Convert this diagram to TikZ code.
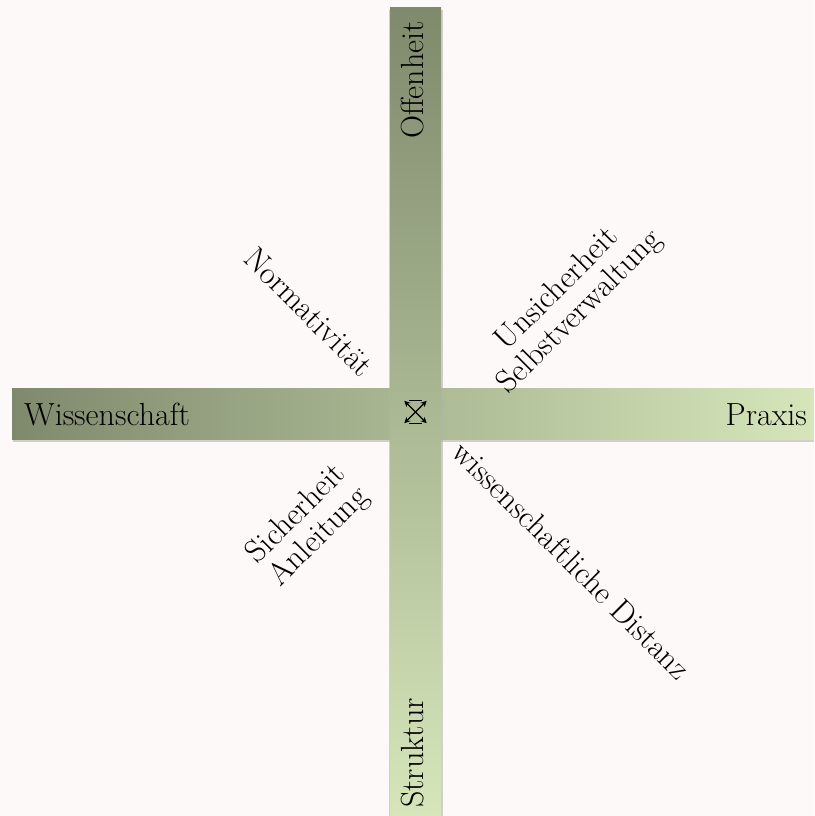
\documentclass[tikz,border=0pt]{standalone}
\usepackage{xcolor}
\usepackage{pgf,tikz}
\usetikzlibrary{arrows.meta,positioning,calc}

\definecolor{bgcol}{HTML}{FCF9F8}
\definecolor{darkol}{HTML}{7F8A6D}
\definecolor{midol}{HTML}{B0C497}
\definecolor{lightol}{HTML}{D6E6BA}
\definecolor{shadcol}{HTML}{B5B2B0}

\tikzset{
    lbl/.style={inner sep=0pt, text=black, font=\fontsize{32}{32}\selectfont},
    shad/.style={fill=shadcol, opacity=0.6}
}

\begin{document}
\begin{tikzpicture}[x=1pt,y=-1pt]
    \fill[bgcol] (0,0) rectangle (814,816);
    % bars
    \fill[shad] (13,391) rectangle (814,442);
    \shade[left color=darkol, middle color=midol, right color=lightol] (12,388) rectangle (814,439);
    \fill[shad] (389,10) rectangle (443,816);
    \shade[top color=darkol, middle color=midol, bottom color=lightol] (390,8) rectangle (441,816);
    % axis labels
    \node[lbl, anchor=base west] (wiss) at (24,425) {Wissenschaft};
    \node[lbl, anchor=base east] (praxis) at (807,425) {Praxis};
    \node[lbl, rotate=90] (offen) at (413,80) {Offenheit};
    \node[lbl, rotate=90] (struk) at (413,753) {Struktur};
    % quadrants
    \node[lbl, rotate=-45] (norm) at (309,312) {Normativität};
    \node[lbl, rotate=45, align=center] (unsich) at (569,301) {Unsicherheit\\Selbstverwaltung};
    \node[lbl, rotate=45, align=center] (sich) at (308,526) {Sicherheit\\Anleitung};
    \node[lbl, rotate=-45] (dist) at (572,560) {wissenschaftliche Distanz};
    % centre mark
    \node[minimum size=22pt, inner sep=0pt] (mid) at (415.5,412) {};
    \draw[line width=1.3pt, {Stealth[length=6pt,width=6pt]}-{Stealth[length=6pt,width=6pt]}] (mid.north west) -- (mid.south east);
    \draw[line width=1.3pt, {Stealth[length=6pt,width=6pt]}-{Stealth[length=6pt,width=6pt]}] (mid.north east) -- (mid.south west);
    \draw[line width=1pt] ($(mid.north west)+(5,0)$) -- ($(mid.north east)+(-5,0)$);
    \draw[line width=1pt] ($(mid.south west)+(5,0)$) -- ($(mid.south east)+(-5,0)$);
\end{tikzpicture}
\end{document}
